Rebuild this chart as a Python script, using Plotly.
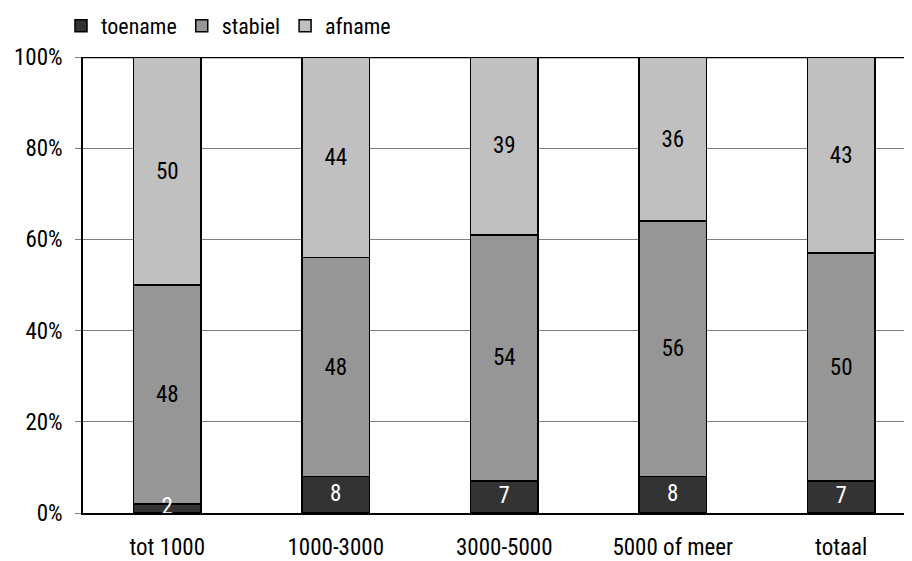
import plotly.graph_objects as go

categories = ["tot 1000", "1000-3000", "3000-5000", "5000 of meer", "totaal"]
toename = [2, 8, 7, 8, 7]
stabiel = [48, 48, 54, 56, 50]
afname = [50, 44, 39, 36, 43]
tick_vals = [0, 20, 40, 60, 80, 100]
tick_text = ["0%", "20%", "40%", "60%", "80%", "100%"]

FONT = "Roboto Condensed"

series = [
    ("toename", toename, "#333333", "white"),
    ("stabiel", stabiel, "#969696", "black"),
    ("afname", afname, "#c0c0c0", "black"),
]

fig = go.Figure()
for name, vals, color, tcolor in series:
    show_text = name != "toename"
    fig.add_trace(go.Bar(
        name=name, x=categories, y=vals,
        marker=dict(color=color, line=dict(color="black", width=1.5)),
        text=[str(v) for v in vals] if show_text else None,
        textposition="inside", textangle=0,
        insidetextanchor="middle", constraintext="none",
        textfont=dict(color=tcolor, size=23, family=FONT),
        width=0.40,
    ))

# labels of the bottom segment drawn on top of everything
fig.add_trace(go.Scatter(
    x=categories, y=[v / 2 for v in toename], mode="text",
    text=[str(v) for v in toename], textposition="middle center",
    textfont=dict(color="white", size=23, family=FONT),
    showlegend=False, hoverinfo="skip",
))

fig.update_layout(
    barmode="stack",
    width=904, height=553,
    margin=dict(l=75, r=0, t=49, b=48, autoexpand=False),
    plot_bgcolor="white", paper_bgcolor="white",
    font=dict(family=FONT, size=23, color="black"),
    showlegend=True,
    legend=dict(orientation="h", traceorder="normal",
                xref="container", yref="container",
                x=53 / 904, xanchor="left", y=1 - 18 / 553, yanchor="middle",
                font=dict(size=22), itemwidth=30, tracegroupgap=0,
                bgcolor="rgba(0,0,0,0)"),
    xaxis=dict(showline=True, linecolor="black", linewidth=2, ticks="",
               showgrid=False, ticklabelstandoff=12, range=[-0.5, 4.42]),
    yaxis=dict(range=[0, 100], tickvals=tick_vals, ticktext=tick_text,
               showgrid=True, gridcolor="#808080", gridwidth=1,
               showline=True, linecolor="black", linewidth=1.5,
               ticks="outside", ticklen=6, tickcolor="#808080",
               ticklabelstandoff=8, zeroline=False),
    shapes=[dict(type="line", xref="paper", yref="y", x0=0, x1=1, y0=100, y1=100,
                 line=dict(color="black", width=2.5), layer="below")],
)

fig.write_html("out.html")
